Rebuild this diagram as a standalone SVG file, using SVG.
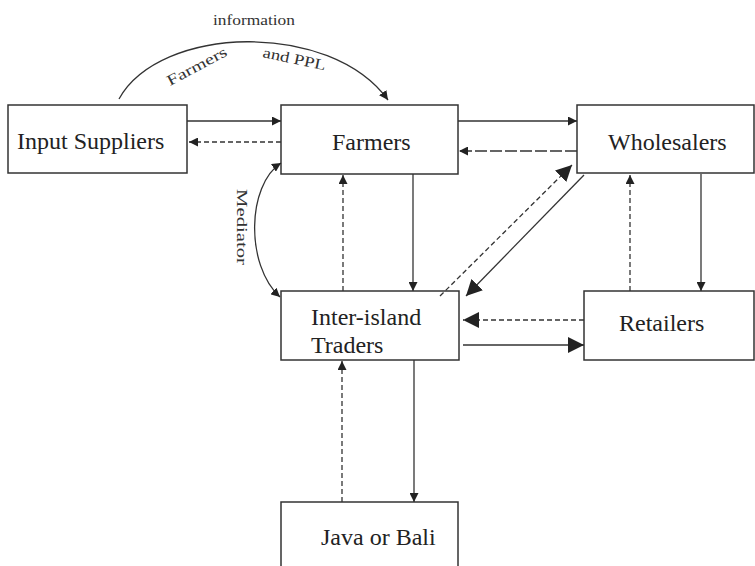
<svg xmlns="http://www.w3.org/2000/svg" width="755" height="566" viewBox="0 0 755 566">
<style>
.box{fill:#fff;stroke:#333;stroke-width:1.5}
.lbl{font-family:"Liberation Serif","Times New Roman",serif;font-size:24px;fill:#222}
.sm{font-family:"Liberation Serif","Times New Roman",serif;font-size:15px;fill:#333}
.c{fill:none;stroke:#333;stroke-width:1.3}
.d{stroke-dasharray:5,3}
.dd{stroke-dasharray:12,3}
</style>
<defs>
<marker id="a" viewBox="0 0 10 10" refX="10" refY="5" markerWidth="9" markerHeight="9" markerUnits="userSpaceOnUse" orient="auto-start-reverse"><path d="M0,0L10,5L0,10z" fill="#222"/></marker>
<marker id="b" viewBox="0 0 10 10" refX="10" refY="5" markerWidth="16" markerHeight="16" markerUnits="userSpaceOnUse" orient="auto"><path d="M0,0L10,5L0,10z" fill="#222"/></marker>
</defs>
<rect width="755" height="566" fill="#fff"/>
<g id="input-suppliers"><rect class="box" x="8" y="105" width="179" height="68"/><text class="lbl" x="17" y="149">Input Suppliers</text></g>
<g id="farmers"><rect class="box" x="281" y="105" width="177" height="69"/><text class="lbl" x="332" y="150">Farmers</text></g>
<g id="wholesalers"><rect class="box" x="577" y="105" width="177" height="68"/><text class="lbl" x="608" y="150">Wholesalers</text></g>
<g id="inter-island"><rect class="box" x="281" y="291" width="178" height="69"/><text class="lbl" x="311" y="325">Inter-island</text><text class="lbl" x="311" y="353">Traders</text></g>
<g id="retailers"><rect class="box" x="584" y="291" width="170" height="69"/><text class="lbl" x="619" y="331">Retailers</text></g>
<g id="java-bali"><rect class="box" x="281" y="502" width="177" height="70"/><text class="lbl" x="321" y="545">Java or Bali</text></g>
<g id="connectors">
<path class="c" d="M187,121H281" marker-end="url(#a)"/>
<path class="c d" d="M281,142H189" marker-end="url(#a)"/>
<path class="c" d="M458,121H577" marker-end="url(#a)"/>
<path class="c dd" d="M577,151H459" marker-end="url(#a)"/>
<path class="c" d="M413,174V291" marker-end="url(#a)"/>
<path class="c d" d="M343,291V175" marker-end="url(#a)"/>
<path class="c" d="M584,175L466,296" marker-end="url(#b)"/>
<path class="c d" d="M440,296L572,165" marker-end="url(#b)"/>
<path class="c d" d="M584,320H463" marker-end="url(#b)"/>
<path class="c" d="M463,345H584" marker-end="url(#b)"/>
<path class="c" d="M701,174V291" marker-end="url(#a)"/>
<path class="c d" d="M630,291V175" marker-end="url(#a)"/>
<path class="c" d="M414,360V502" marker-end="url(#a)"/>
<path class="c d" d="M342,502V361" marker-end="url(#a)"/>
<path class="c" d="M119,99C160,25 330,20 388,100" marker-end="url(#a)"/>
<path class="c" d="M281,163C247,185 245,265 280,297" marker-start="url(#a)" marker-end="url(#a)"/>
<text class="sm" x="213" y="25" textLength="82" lengthAdjust="spacingAndGlyphs" font-size="16">information</text>
<text class="sm" x="170" y="86" transform="rotate(-28 170 86)" textLength="66" lengthAdjust="spacingAndGlyphs">Farmers</text>
<text class="sm" x="262" y="57" transform="rotate(12 262 57)" textLength="64" lengthAdjust="spacingAndGlyphs">and PPL</text>
<text class="sm" x="237" y="189" transform="rotate(90 237 189)" textLength="76" lengthAdjust="spacingAndGlyphs" font-size="18">Mediator</text>
</g>
</svg>
